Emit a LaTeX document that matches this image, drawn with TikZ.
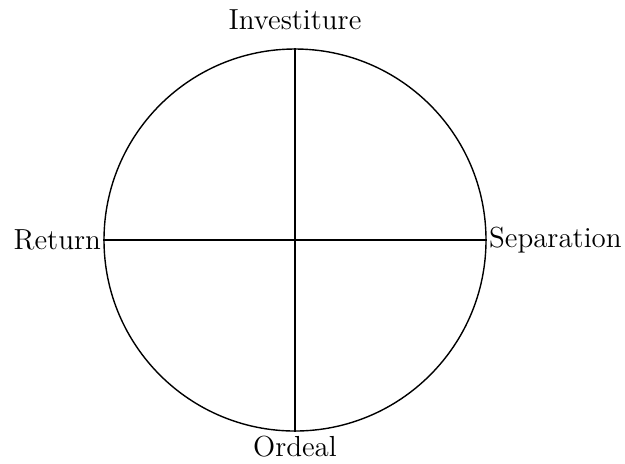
\documentclass[tikz,border=0pt]{standalone}
\begin{document}
\begin{tikzpicture}[x=0.5pt,y=-0.5pt,
  ring/.style={circle,draw,line width=0.7pt,minimum size=191pt,inner sep=0pt},
  axis/.style={line width=0.7pt},
  lab/.style={font=\fontsize{14.5}{17}\selectfont,inner sep=1pt}]
\useasboundingbox (0,0) rectangle (625,463);
\node[ring] (c) at (295,240) {};
\draw[axis] (c.north) -- (c.south);
\draw[axis] (c.west) -- (c.east);
\node[lab,anchor=south] (inv) at ([yshift=8pt]c.north) {Investiture};
\node[lab,anchor=north] (ord) at ([yshift=-1pt]c.south) {Ordeal};
\node[lab,anchor=east] (ret) at (c.west) {Return};
\node[lab,anchor=west] (sep) at (c.east) {Separation};
\end{tikzpicture}
\end{document}
